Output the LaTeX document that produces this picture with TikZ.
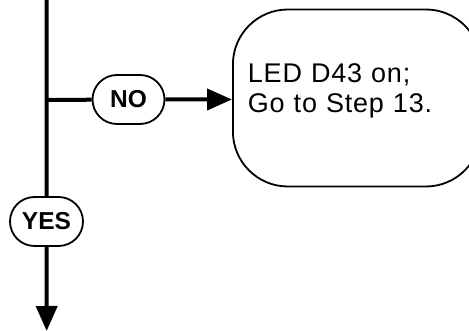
\documentclass[tikz,border=0pt]{standalone}
\usepackage{fontspec}
\setmainfont{Liberation Sans}
\usetikzlibrary{arrows.meta, positioning, shapes.misc}

\begin{document}
\begin{tikzpicture}[
    x=1pt, y=1pt,
    pill/.style={
        rounded rectangle,
        draw=black,
        line width=1.8pt,
        fill=white,
        minimum width=72pt,
        minimum height=49pt,
        inner sep=0pt,
        font=\fontsize{24.5}{28}\selectfont\bfseries
    },
    stepbox/.style={
        rectangle,
        rounded corners=55pt,
        draw=black,
        line width=1.8pt,
        align=left,
        text width=218pt,
        inner xsep=15pt,
        minimum height=177pt,
        text height=45pt,
        text depth=75pt,
        font=\fontsize{27}{30}\selectfont\addfontfeatures{LetterSpace=3}
    },
    flow/.style={line width=4pt},
    arrow/.style={-{Triangle[length=25pt, width=21pt]}, line width=4pt}
]

\useasboundingbox (0,0) rectangle (469,331);

\coordinate (top) at (46.7,336);
\coordinate (split) at (46.7,231);
\coordinate (bottom) at (46.7,0);

\node[stepbox, anchor=west] (led) at (232,233) {LED D43 on;\\Go to Step 13.};
\node[pill] (no) at (128.5,231.5) {NO};
\node[pill, minimum width=73pt] (yes) at (46.5,109.5) {YES};

\draw[flow] (top) -- (yes);
\draw[flow] (split) -- (no);
\draw[arrow] (no) -- (no -| led.west);
\draw[arrow] (yes) -- (bottom);

\end{tikzpicture}
\end{document}
